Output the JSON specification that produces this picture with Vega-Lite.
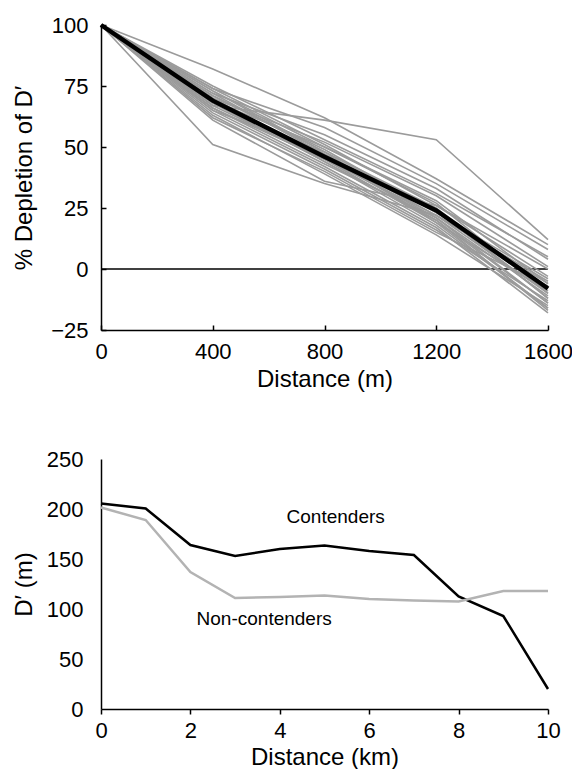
{
  "$schema": "https://vega.github.io/schema/vega-lite/v6.json",
  "padding": {"left": 12, "top": 14, "right": 5, "bottom": 0},
  "spacing": 57,
  "config": {
    "view": {"stroke": null},
    "font": "Liberation Sans",
    "axis": {
      "grid": false,
      "domainColor": "black",
      "domainWidth": 1.5,
      "tickColor": "black",
      "tickWidth": 1.5,
      "labelColor": "black",
      "titleColor": "black",
      "labelFont": "Liberation Sans",
      "titleFont": "Liberation Sans",
      "labelFontSize": 22,
      "titleFontSize": 24,
      "titleFontWeight": "normal",
      "format": "d"
    }
  },
  "datasets": {
    "subjects": [
      {"s": 1, "d": 0, "v": 100}, {"s": 1, "d": 400, "v": 82}, {"s": 1, "d": 800, "v": 62}, {"s": 1, "d": 1200, "v": 37}, {"s": 1, "d": 1600, "v": 10},
      {"s": 2, "d": 0, "v": 100}, {"s": 2, "d": 400, "v": 51}, {"s": 2, "d": 800, "v": 35}, {"s": 2, "d": 1200, "v": 22}, {"s": 2, "d": 1600, "v": -5},
      {"s": 3, "d": 0, "v": 100}, {"s": 3, "d": 400, "v": 67}, {"s": 3, "d": 800, "v": 61}, {"s": 3, "d": 1200, "v": 53}, {"s": 3, "d": 1600, "v": 12},
      {"s": 4, "d": 0, "v": 100}, {"s": 4, "d": 400, "v": 74}, {"s": 4, "d": 800, "v": 58}, {"s": 4, "d": 1200, "v": 35}, {"s": 4, "d": 1600, "v": 8},
      {"s": 5, "d": 0, "v": 100}, {"s": 5, "d": 400, "v": 72}, {"s": 5, "d": 800, "v": 55}, {"s": 5, "d": 1200, "v": 33}, {"s": 5, "d": 1600, "v": 4},
      {"s": 6, "d": 0, "v": 100}, {"s": 6, "d": 400, "v": 70}, {"s": 6, "d": 800, "v": 52}, {"s": 6, "d": 1200, "v": 30}, {"s": 6, "d": 1600, "v": 1},
      {"s": 7, "d": 0, "v": 100}, {"s": 7, "d": 400, "v": 73}, {"s": 7, "d": 800, "v": 50}, {"s": 7, "d": 1200, "v": 27}, {"s": 7, "d": 1600, "v": -10},
      {"s": 8, "d": 0, "v": 100}, {"s": 8, "d": 400, "v": 71}, {"s": 8, "d": 800, "v": 48}, {"s": 8, "d": 1200, "v": 25}, {"s": 8, "d": 1600, "v": -12},
      {"s": 9, "d": 0, "v": 100}, {"s": 9, "d": 400, "v": 69}, {"s": 9, "d": 800, "v": 47}, {"s": 9, "d": 1200, "v": 22}, {"s": 9, "d": 1600, "v": -6},
      {"s": 10, "d": 0, "v": 100}, {"s": 10, "d": 400, "v": 68}, {"s": 10, "d": 800, "v": 46}, {"s": 10, "d": 1200, "v": 20}, {"s": 10, "d": 1600, "v": -14},
      {"s": 11, "d": 0, "v": 100}, {"s": 11, "d": 400, "v": 67}, {"s": 11, "d": 800, "v": 45}, {"s": 11, "d": 1200, "v": 19}, {"s": 11, "d": 1600, "v": -9},
      {"s": 12, "d": 0, "v": 100}, {"s": 12, "d": 400, "v": 70}, {"s": 12, "d": 800, "v": 44}, {"s": 12, "d": 1200, "v": 18}, {"s": 12, "d": 1600, "v": -16},
      {"s": 13, "d": 0, "v": 100}, {"s": 13, "d": 400, "v": 66}, {"s": 13, "d": 800, "v": 43}, {"s": 13, "d": 1200, "v": 21}, {"s": 13, "d": 1600, "v": -11},
      {"s": 14, "d": 0, "v": 100}, {"s": 14, "d": 400, "v": 65}, {"s": 14, "d": 800, "v": 42}, {"s": 14, "d": 1200, "v": 17}, {"s": 14, "d": 1600, "v": -18},
      {"s": 15, "d": 0, "v": 100}, {"s": 15, "d": 400, "v": 64}, {"s": 15, "d": 800, "v": 41}, {"s": 15, "d": 1200, "v": 16}, {"s": 15, "d": 1600, "v": -13},
      {"s": 16, "d": 0, "v": 100}, {"s": 16, "d": 400, "v": 62}, {"s": 16, "d": 800, "v": 40}, {"s": 16, "d": 1200, "v": 15}, {"s": 16, "d": 1600, "v": -7},
      {"s": 17, "d": 0, "v": 100}, {"s": 17, "d": 400, "v": 63}, {"s": 17, "d": 800, "v": 39}, {"s": 17, "d": 1200, "v": 14}, {"s": 17, "d": 1600, "v": -15},
      {"s": 18, "d": 0, "v": 100}, {"s": 18, "d": 400, "v": 71}, {"s": 18, "d": 800, "v": 49}, {"s": 18, "d": 1200, "v": 23}, {"s": 18, "d": 1600, "v": -4},
      {"s": 19, "d": 0, "v": 100}, {"s": 19, "d": 400, "v": 72}, {"s": 19, "d": 800, "v": 47}, {"s": 19, "d": 1200, "v": 24}, {"s": 19, "d": 1600, "v": -8},
      {"s": 20, "d": 0, "v": 100}, {"s": 20, "d": 400, "v": 74}, {"s": 20, "d": 800, "v": 51}, {"s": 20, "d": 1200, "v": 26}, {"s": 20, "d": 1600, "v": 0},
      {"s": 21, "d": 0, "v": 100}, {"s": 21, "d": 400, "v": 68}, {"s": 21, "d": 800, "v": 44}, {"s": 21, "d": 1200, "v": 20}, {"s": 21, "d": 1600, "v": -17},
      {"s": 22, "d": 0, "v": 100}, {"s": 22, "d": 400, "v": 66}, {"s": 22, "d": 800, "v": 45}, {"s": 22, "d": 1200, "v": 22}, {"s": 22, "d": 1600, "v": -10},
      {"s": 23, "d": 0, "v": 100}, {"s": 23, "d": 400, "v": 61}, {"s": 23, "d": 800, "v": 36}, {"s": 23, "d": 1200, "v": 26}, {"s": 23, "d": 1600, "v": -3},
      {"s": 24, "d": 0, "v": 100}, {"s": 24, "d": 400, "v": 75}, {"s": 24, "d": 800, "v": 53}, {"s": 24, "d": 1200, "v": 31}, {"s": 24, "d": 1600, "v": 5},
      {"s": 25, "d": 0, "v": 100}, {"s": 25, "d": 400, "v": 69}, {"s": 25, "d": 800, "v": 50}, {"s": 25, "d": 1200, "v": 28}, {"s": 25, "d": 1600, "v": -6},
      {"s": 26, "d": 0, "v": 100}, {"s": 26, "d": 400, "v": 65}, {"s": 26, "d": 800, "v": 48}, {"s": 26, "d": 1200, "v": 24}, {"s": 26, "d": 1600, "v": -12},
      {"s": 27, "d": 0, "v": 100}, {"s": 27, "d": 400, "v": 70}, {"s": 27, "d": 800, "v": 46}, {"s": 27, "d": 1200, "v": 21}, {"s": 27, "d": 1600, "v": -14},
      {"s": 28, "d": 0, "v": 100}, {"s": 28, "d": 400, "v": 73}, {"s": 28, "d": 800, "v": 48}, {"s": 28, "d": 1200, "v": 19}, {"s": 28, "d": 1600, "v": -16}
    ],
    "mean": [
      {"d": 0, "v": 100}, {"d": 400, "v": 69}, {"d": 800, "v": 46}, {"d": 1200, "v": 24}, {"d": 1600, "v": -8}
    ],
    "zero": [{"v": 0}],
    "groups": [
      {"g": "Contenders", "km": 0, "dp": 205.5}, {"g": "Contenders", "km": 1, "dp": 200.5}, {"g": "Contenders", "km": 2, "dp": 164}, {"g": "Contenders", "km": 3, "dp": 153}, {"g": "Contenders", "km": 4, "dp": 160}, {"g": "Contenders", "km": 5, "dp": 163.5}, {"g": "Contenders", "km": 6, "dp": 158}, {"g": "Contenders", "km": 7, "dp": 154}, {"g": "Contenders", "km": 8, "dp": 112.5}, {"g": "Contenders", "km": 9, "dp": 93}, {"g": "Contenders", "km": 10, "dp": 20},
      {"g": "Non-contenders", "km": 0, "dp": 201.5}, {"g": "Non-contenders", "km": 1, "dp": 189}, {"g": "Non-contenders", "km": 2, "dp": 137}, {"g": "Non-contenders", "km": 3, "dp": 111}, {"g": "Non-contenders", "km": 4, "dp": 112}, {"g": "Non-contenders", "km": 5, "dp": 113.5}, {"g": "Non-contenders", "km": 6, "dp": 110}, {"g": "Non-contenders", "km": 7, "dp": 108.5}, {"g": "Non-contenders", "km": 8, "dp": 107.5}, {"g": "Non-contenders", "km": 9, "dp": 118}, {"g": "Non-contenders", "km": 10, "dp": 118}
    ],
    "labels": [
      {"g": "Contenders", "km": 5.25, "dp": 192},
      {"g": "Non-contenders", "km": 3.65, "dp": 90}
    ]
  },
  "vconcat": [
    {
      "width": 447,
      "height": 305,
      "layer": [
        {
          "data": {"name": "zero"},
          "mark": {"type": "rule", "color": "black", "strokeWidth": 1.5},
          "encoding": {"y": {"field": "v", "type": "quantitative", "scale": {"domain": [-25, 100], "nice": false}}}
        },
        {
          "data": {"name": "subjects"},
          "mark": {"type": "line", "color": "#9b9b9b", "strokeWidth": 1.6},
          "encoding": {
            "x": {"field": "d", "type": "quantitative", "scale": {"domain": [0, 1600], "nice": false},
                  "axis": {"title": "Distance (m)", "values": [0, 400, 800, 1200, 1600], "tickSize": -5, "labelPadding": 16, "titlePadding": 5, "labelFlush": false}},
            "y": {"field": "v", "type": "quantitative", "scale": {"domain": [-25, 100], "nice": false},
                  "axis": {"title": "% Depletion of D′", "values": [-25, 0, 25, 50, 75, 100], "tickSize": -5, "labelPadding": 18, "titlePadding": 14, "labelFlush": false}},
            "detail": {"field": "s", "type": "nominal"}
          }
        },
        {
          "data": {"name": "mean"},
          "mark": {"type": "line", "color": "black", "strokeWidth": 4.5},
          "encoding": {
            "x": {"field": "d", "type": "quantitative"},
            "y": {"field": "v", "type": "quantitative"}
          }
        }
      ]
    },
    {
      "width": 447,
      "height": 250,
      "layer": [
        {
          "data": {"name": "groups"},
          "mark": {"type": "line", "strokeWidth": 2.5},
          "encoding": {
            "x": {"field": "km", "type": "quantitative", "scale": {"domain": [0, 10], "nice": false},
                  "axis": {"title": "Distance (km)", "values": [0, 2, 4, 6, 8, 10], "tickSize": 5, "labelPadding": 6, "titlePadding": 4, "labelFlush": false}},
            "y": {"field": "dp", "type": "quantitative", "scale": {"domain": [0, 250], "nice": false},
                  "axis": {"title": "D′ (m)", "values": [0, 50, 100, 150, 200, 250], "ticks": false, "labelPadding": 18, "titlePadding": 10, "labelFlush": false}},
            "color": {"field": "g", "type": "nominal", "scale": {"domain": ["Contenders", "Non-contenders"], "range": ["black", "#b3b3b3"]}, "legend": null}
          }
        },
        {
          "data": {"name": "labels"},
          "mark": {"type": "text", "fontSize": 19, "align": "center", "baseline": "middle", "color": "black", "font": "Liberation Sans"},
          "encoding": {
            "x": {"field": "km", "type": "quantitative"},
            "y": {"field": "dp", "type": "quantitative"},
            "text": {"field": "g", "type": "nominal"}
          }
        }
      ]
    }
  ]
}
